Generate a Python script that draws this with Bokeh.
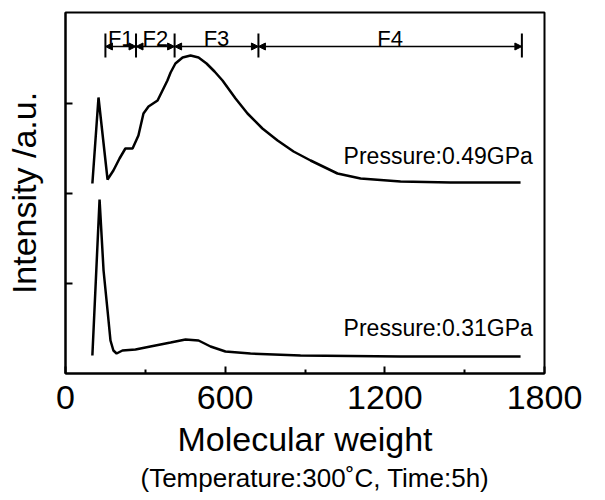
from bokeh.plotting import figure
from bokeh.models import Label, Arrow, NormalHead, FixedTicker, Range1d, Title
from bokeh.embed import file_html
from bokeh.resources import INLINE

FONT = "Arial"

# Molecular weight vs intensity (a.u.)
x_049 = [101, 124, 158, 180, 203, 225, 252, 274, 293, 312, 346, 383, 395, 413, 440, 470, 500, 530, 560, 590,
         639, 684, 740, 797, 857, 921, 1022, 1109, 1259, 1447, 1710]
y_049 = [190, 276, 194, 203, 215, 225, 225, 238, 260, 267, 273, 293, 301, 310, 316, 318, 316, 310, 302, 293,
         275, 260, 245, 233, 222, 213, 200, 195, 192, 191, 191]

x_031 = [101, 128, 143, 158, 169, 180, 192, 214, 263, 319, 395, 451, 500, 545, 601, 695, 883, 1259, 1710]
y_031 = [18, 174, 103, 63, 33, 23, 20, 23, 24, 27, 31, 34, 33, 27, 22, 20, 18, 17, 17]

# fraction boundaries
frac_bounds = [150, 265, 410, 725, 1715]
frac_names = ["F1", "F2", "F3", "F4"]
frac_y = 327

x_ticks = [0, 600, 1200, 1800]
x_minor = [300, 900, 1500]
y_ticks = [90, 180, 270]

p = figure(frame_width=479, frame_height=361, output_backend="svg", toolbar_location=None,
           x_range=Range1d(0, 1800), y_range=Range1d(0, 361),
           min_border_left=65, min_border_right=56, min_border_top=12, min_border_bottom=20)
p.grid.visible = False
p.outline_line_color = "black"
p.outline_line_width = 2
p.background_fill_color = "white"
p.border_fill_color = "white"

p.line(x_049, y_049, line_color="black", line_width=2.5)
p.line(x_031, y_031, line_color="black", line_width=2.5)

# x axis
xa = p.xaxis[0]
xa.ticker = FixedTicker(ticks=x_ticks, minor_ticks=x_minor)
xa.major_tick_in = 7
xa.major_tick_out = 0
xa.minor_tick_in = 4
xa.minor_tick_out = 0
xa.axis_line_width = 2
xa.major_tick_line_width = 2
xa.minor_tick_line_width = 2
xa.major_label_text_font = FONT
xa.major_label_text_font_size = "34px"
xa.major_label_text_color = "black"
xa.major_label_standoff = 12
xa.axis_label = "Molecular weight"
xa.axis_label_text_font = FONT
xa.axis_label_text_font_size = "34px"
xa.axis_label_text_font_style = "normal"
xa.axis_label_text_color = "black"
xa.axis_label_standoff = 8

ya = p.yaxis[0]
ya.ticker = FixedTicker(ticks=y_ticks)
ya.major_tick_in = 7
ya.major_tick_out = 0
ya.minor_tick_line_color = None
ya.axis_line_width = 2
ya.major_tick_line_width = 2
ya.major_label_overrides = {t: "" for t in y_ticks}
ya.major_label_standoff = 0
ya.axis_label = "Intensity /a.u."
ya.axis_label_text_font = FONT
ya.axis_label_text_font_size = "34px"
ya.axis_label_text_font_style = "normal"
ya.axis_label_text_color = "black"
ya.axis_label_standoff = 23

p.add_layout(Title(text="(Temperature:300˚C, Time:5h)", align="left", offset=75,
                   text_font=FONT, text_font_size="26px", text_font_style="normal",
                   text_color="black", standoff=0), "below")

# fraction arrows
for b in frac_bounds:
    p.segment(x0=[b], y0=[316], x1=[b], y1=[340], line_color="black", line_width=2)
for i, name in enumerate(frac_names):
    a, b = frac_bounds[i], frac_bounds[i + 1]
    p.add_layout(Arrow(x_start=a, y_start=frac_y, x_end=b, y_end=frac_y, line_width=1.5,
                       start=NormalHead(size=7, fill_color="black", line_color="black"),
                       end=NormalHead(size=7, fill_color="black", line_color="black")))
    p.add_layout(Label(x=(a + b) / 2, y=335, text=name, text_align="center", text_color="black",
                       text_baseline="alphabetic", text_font=FONT, text_font_size="22px"))

p.add_layout(Label(x=1045, y=218, text="Pressure:0.49GPa", text_font=FONT, text_font_size="23px",
                   text_color="black", text_baseline="alphabetic"))
p.add_layout(Label(x=1045, y=46, text="Pressure:0.31GPa", text_font=FONT, text_font_size="23px",
                   text_color="black", text_baseline="alphabetic"))

open("out.html", "w").write(file_html(p, INLINE))
